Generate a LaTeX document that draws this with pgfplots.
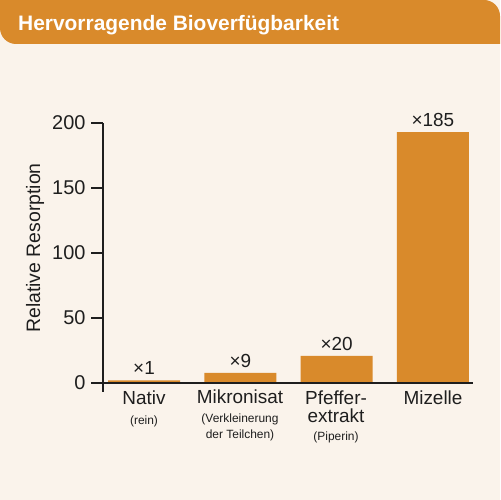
\documentclass[border=0pt]{standalone}
\usepackage{pgfplots}
\pgfplotsset{compat=1.18}
\usepackage{fontspec}
\setmainfont{Liberation Sans}
\definecolor{bg}{HTML}{FAF3EB}
\definecolor{hdr}{HTML}{D98A2B}
\definecolor{barc}{HTML}{D98A2B}
\definecolor{txt}{HTML}{1E1E1E}
\newcommand{\fsA}{\fontsize{19}{21}\selectfont}
\newcommand{\fsB}{\fontsize{12}{14}\selectfont}
\begin{document}
\begin{tikzpicture}[x=1bp,y=1bp]
\fill[bg] (0,0) rectangle (500,500);
\fill[hdr] (0,500) -- (484,500) arc[start angle=90,end angle=0,radius=16] -- (500,456) -- (16,456) arc[start angle=270,end angle=180,radius=16] -- cycle;
\node[anchor=base west, text=white, font=\fontsize{21}{24}\selectfont\bfseries, inner sep=0pt] at (18,469) {Hervorragende Bioverfügbarkeit};
\begin{axis}[at={(103bp,108bp)}, anchor=south west, scale only axis,
  width=370bp, height=269bp,
  xmin=-0.426, xmax=3.416, ymin=-7, ymax=200,
  axis x line=none, axis y line=left,
  y axis line style={-, draw=txt, line width=1.3bp},
  ytick={0,50,100,150,200}, xtick=\empty,
  tick align=outside, major tick length=12bp,
  tick style={draw=txt, line width=1.3bp},
  /pgf/number format/assume math mode=true,
  yticklabel style={font=\fontsize{20}{22}\selectfont, text=txt, xshift=-2bp},
  ybar, bar width=72bp, bar shift=0pt, clip=false,
  nodes near coords, point meta=explicit symbolic,
  every node near coord/.append style={font=\fsA, text=txt, yshift=2bp},
]
\addplot[fill=barc, draw=none] coordinates {(0,2) [×1] (1,7.7) [×9] (2,20.8) [×20] (3,193) [×185]};
\draw[txt, line width=1.3bp] (axis cs:-0.426,0) -- (axis cs:3.416,0);
\end{axis}
\node[rotate=90, font=\fontsize{19.5}{21}\selectfont, text=txt] at (35,252) {Relative Resorption};
\begin{scope}[every node/.style={anchor=base, text=txt, inner sep=0pt}]
\node[font=\fsA] at (144,95) {Nativ};
\node[font=\fsB] at (144,75) {(rein)};
\node[font=\fsA] at (240,96) {Mikronisat};
\node[font=\fsB] at (240,77) {(Verkleinerung};
\node[font=\fsB] at (240,61) {der Teilchen)};
\node[font=\fsA] at (336,95) {Pfeffer-};
\node[font=\fsA] at (336,77) {extrakt};
\node[font=\fsB] at (336,59) {(Piperin)};
\node[font=\fsA] at (433,95) {Mizelle};
\end{scope}
\end{tikzpicture}
\end{document}
